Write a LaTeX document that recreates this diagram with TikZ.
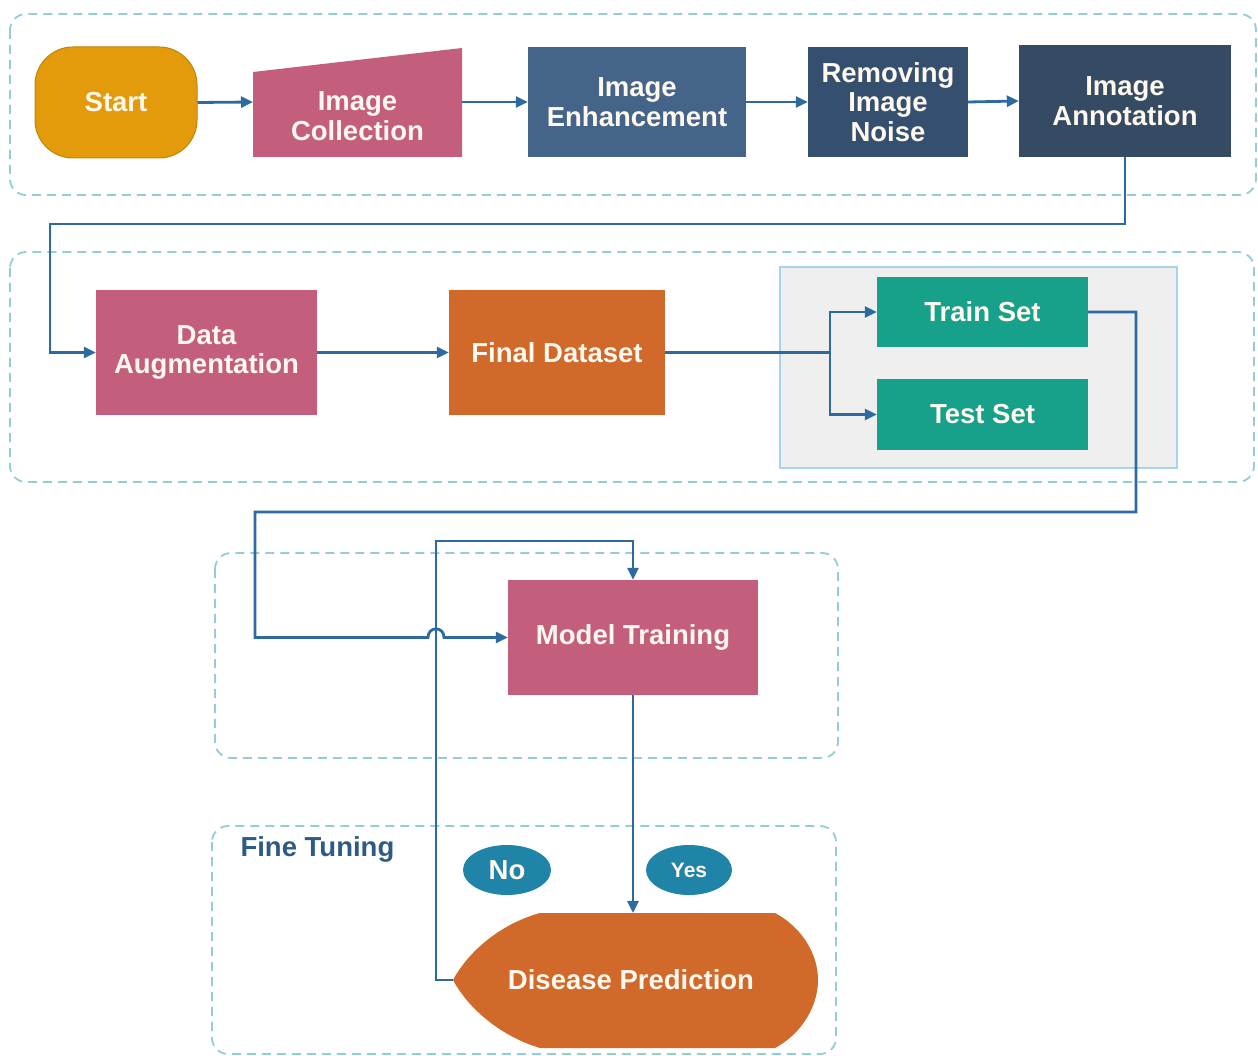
\documentclass[tikz,border=0pt]{standalone}
\usepackage{fontspec}
\setmainfont{Liberation Sans}
\usetikzlibrary{arrows.meta,shapes.geometric}
\definecolor{grpc}{HTML}{95CDD6}
\definecolor{arrc}{HTML}{2D6A9F}
\definecolor{startc}{HTML}{E39B0B}
\definecolor{pinkc}{HTML}{C45E7D}
\definecolor{enhc}{HTML}{45648A}
\definecolor{noisec}{HTML}{34506E}
\definecolor{annc}{HTML}{354B63}
\definecolor{orangec}{HTML}{D0692A}
\definecolor{tealc}{HTML}{17A08A}
\definecolor{ellc}{HTML}{1F84A8}
\definecolor{grayc}{HTML}{EFEFEF}
\definecolor{grayb}{HTML}{A8D4EA}
\definecolor{ftc}{HTML}{2C5C85}
\definecolor{txtc}{HTML}{FFF8EE}
\newcommand\dgfont{\fontsize{27.5}{29.5}\selectfont\bfseries}
\begin{document}
\begin{tikzpicture}[x=1pt,y=-1pt,
  grp/.style={draw=grpc, line width=1.8, dash pattern=on 9pt off 6pt, rounded corners=16},
  box/.style={rectangle, inner sep=0, align=center, text=txtc, font=\dgfont},
  arr/.style={draw=arrc, line width=2.8, -{Triangle[length=12pt,width=11pt]}},
  ln/.style={draw=arrc, line width=2.8},
  oval/.style={ellipse, inner sep=0, text=txtc, fill=ellc, font=\dgfont}
]
\useasboundingbox[fill=white] (0,0) rectangle (1258,1056);

% group boxes
\draw[grp] (10,14) rectangle (1256,195);
\draw[grp] (10,252) rectangle (1254,482);
\draw[grp] (215,553) rectangle (838,758);
\draw[grp] (212,826) rectangle (836,1054);
\draw[draw=grayb, fill=grayc, line width=1.4] (780,267) rectangle (1177,468);

% top row
\node[box, fill=startc, draw=startc!85!black, line width=1, rounded corners=38, minimum width=162, minimum height=111] (start) at (116,102.5) {Start};
\fill[pinkc] (253,72) -- (462,48) -- (462,157) -- (253,157) -- cycle;
\node[box] (coll) at (357.5,116) {Image\\Collection};
\coordinate (collW) at (253,102);
\coordinate (collE) at (462,102);
\node[box, fill=enhc, minimum width=218, minimum height=110] (enh) at (637,102) {Image\\Enhancement};
\node[box, fill=noisec, minimum width=160, minimum height=110] (noise) at (888,102) {Removing\\Image\\Noise};
\node[box, fill=annc, minimum width=212, minimum height=112] (ann) at (1125,101) {Image\\Annotation};

\draw[arr] (start.east) -- (collW);
\draw[arr] (collE) -- (enh.west);
\draw[arr] (enh.east) -- (noise.west);
\draw[arr] (noise.east) -- (ann.west);

% middle row
\node[box, fill=pinkc, minimum width=221, minimum height=125] (da) at (206.5,352.5) {Data\\Augmentation};
\node[box, fill=orangec, minimum width=216, minimum height=125] (fd) at (557,352.5) {Final Dataset};
\node[box, fill=tealc, minimum width=211, minimum height=70] (train) at (982.5,312) {Train Set};
\node[box, fill=tealc, minimum width=211, minimum height=71] (test) at (982.5,414.5) {Test Set};
\coordinate (split) at (830,352.5);

\draw[arr] (ann.south) -- (1125,224) -- (50,224) |- (da.west);
\draw[arr] (da.east) -- (fd.west);
\draw[ln] (fd.east) -- (split);
\draw[arr] (split) |- (train.west);
\draw[arr] (split) |- (test.west);

% model training
\node[box, fill=pinkc, minimum width=250, minimum height=115] (mt) at (633,637.5) {Model Training};
\draw[arr] (train.east) -- (1136,312) -- (1136,512) -- (255,512) -- (255,637.5) -- (428,637.5)
  .. controls (428,626) and (444,626) .. (444,637.5) -- (mt.west);

% fine tuning
\node[text=ftc, font=\dgfont, anchor=west] (ft) at (237,849) {Fine Tuning};
\node[oval, minimum width=88, minimum height=50] (no) at (507,870) {No};
\node[oval, minimum width=86, minimum height=50, font=\fontsize{21}{24}\selectfont\bfseries] (yes) at (689,870) {Yes};

\fill[orangec] (540,913) -- (775,913)
  .. controls (803,928) and (818,955) .. (818,980)
  .. controls (818,1005) and (803,1033) .. (775,1048)
  -- (540,1048)
  .. controls (500,1036) and (468,1008) .. (453,980)
  .. controls (468,952) and (500,924) .. (540,913) -- cycle;
\node[box] (dp) at (631,980) {Disease Prediction};
\coordinate (dpN) at (633,913);
\coordinate (dpW) at (453,980);

\draw[arr] (mt.south) -- (dpN);
\draw[arr] (dpW) -- (436,980) -- (436,541) -| (mt.north);
\end{tikzpicture}
\end{document}
